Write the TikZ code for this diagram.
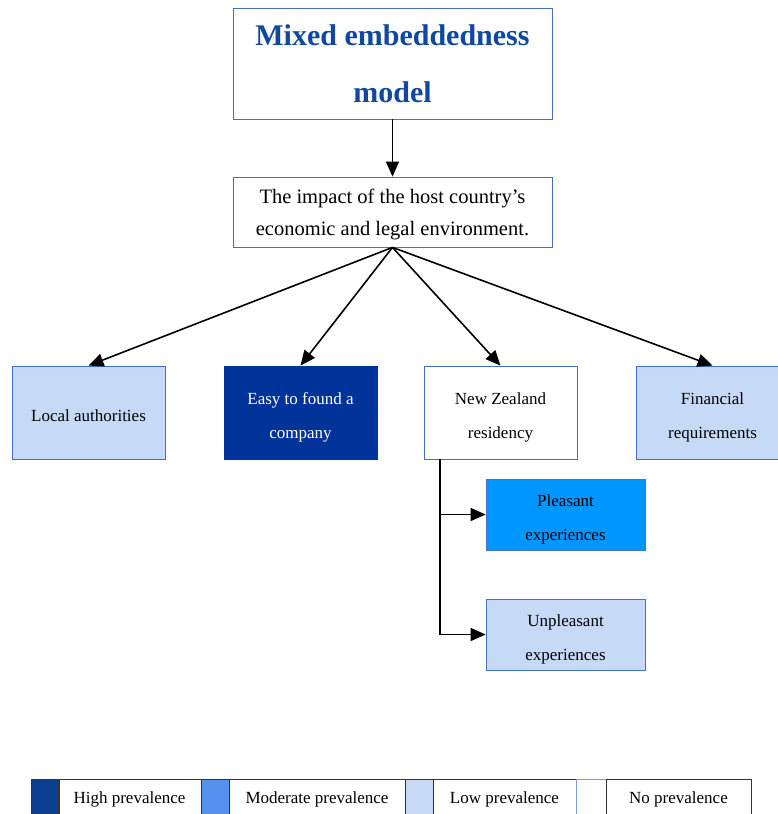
\documentclass[tikz,border=0pt]{standalone}
\usepackage{fontspec}
\setmainfont{Liberation Serif}
\usetikzlibrary{arrows.meta,positioning}
\definecolor{TitleBlue}{RGB}{16,72,160}
\definecolor{EdgeBlue}{RGB}{68,112,196}
\definecolor{PaleBlue}{RGB}{198,218,248}
\definecolor{DeepBlue}{RGB}{0,51,153}
\definecolor{SkyBlue}{RGB}{0,150,255}
\definecolor{MidBlue}{RGB}{85,145,238}
\definecolor{NavyBlue}{RGB}{10,62,143}
\newcommand{\tallstrut}[1]{\rule{0pt}{#1}}
\tikzset{
  box/.style={draw=EdgeBlue,line width=0.8pt,minimum width=153pt,minimum height=93pt,align=center,inner sep=0pt},
  subbox/.style={box,minimum width=159pt,minimum height=71pt},
  lower/.style={execute at begin node={\rule{0pt}{#1}}},
  swatch/.style={draw=black!80,line width=0.6pt,minimum width=28pt,minimum height=36pt,inner sep=0pt},
  keylabel/.style={draw=black!80,line width=0.6pt,minimum height=36pt,inner sep=0pt,lower=16pt,font=\fontsize{17}{20}\selectfont},
  link/.style={-{Triangle[length=15pt,width=13pt]},line width=1.6pt}
}
\begin{document}
\begin{tikzpicture}[x=1pt,y=-1pt]
\useasboundingbox (0,0) rectangle (778,814);
\node[box,minimum width=319pt,minimum height=111pt,text=TitleBlue,font=\fontsize{30}{57}\selectfont\bfseries] (title) at (392.5,63.5) {Mixed embeddedness\\model};
\node[box,minimum width=319pt,minimum height=70pt,font=\fontsize{20.5}{32}\selectfont] (impact) at (392.5,212) {\tallstrut{20pt}The impact of the host country’s\\economic and legal environment.};
\node[box,fill=PaleBlue,lower=18pt,font=\fontsize{17}{34}\selectfont] (local) at (88.5,412.5) {Local authorities};
\node[box,fill=DeepBlue,draw=DeepBlue,text=white,font=\fontsize{17}{34}\selectfont] (easy) at (300.5,412.5) {\tallstrut{22pt}Easy to found a\\company};
\node[box,fill=white,font=\fontsize{17}{34}\selectfont] (nz) at (500.5,412.5) {\tallstrut{22pt}New Zealand\\residency};
\node[box,fill=PaleBlue,font=\fontsize{17}{34}\selectfont] (fin) at (712.5,412.5) {\tallstrut{22pt}Financial\\requirements};
\node[subbox,fill=SkyBlue,font=\fontsize{17}{34}\selectfont] (pleas) at (565.5,514.5) {\tallstrut{22pt}Pleasant\\experiences};
\node[subbox,fill=PaleBlue,font=\fontsize{17}{34}\selectfont] (unpleas) at (565.5,634.5) {\tallstrut{22pt}Unpleasant\\experiences};
\coordinate (fork) at (440,459);
% arrows
\draw[link] (title) -- (impact);
\draw[link] (impact.south) -- (local.north);
\draw[link] (impact.south) -- (easy.north);
\draw[link] (impact.south) -- (nz.north);
\draw[link] (impact.south) -- (fin.north);
\draw[link] (fork) |- (unpleas.west);
\draw[link] (fork |- pleas.west) -- (pleas.west);
% legend
\node[swatch,fill=NavyBlue] (k1) at (45,797) {};
\node[keylabel,minimum width=143pt] (t1) at (129.5,797) {High prevalence};
\node[swatch,fill=MidBlue] (k2) at (215,797) {};
\node[keylabel,minimum width=176pt] (t2) at (317,797) {Moderate prevalence};
\node[swatch,fill=PaleBlue] (k3) at (419,797) {};
\node[keylabel,minimum width=143pt] (t3) at (504.5,797) {Low prevalence};
\node[swatch,draw=EdgeBlue!70,minimum width=30pt] (k4) at (591,797) {};
\node[keylabel,minimum width=145pt] (t4) at (678.5,797) {No prevalence};
\end{tikzpicture}
\end{document}
